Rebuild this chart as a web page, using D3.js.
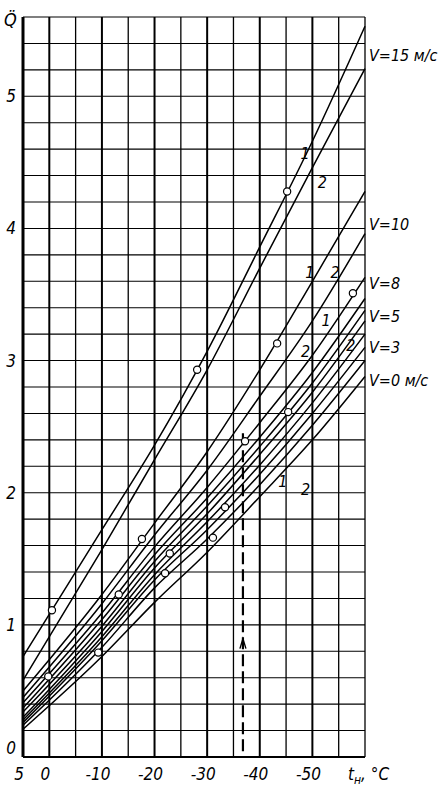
<!DOCTYPE html>
<html><head><meta charset="utf-8">
<script src="https://cdn.jsdelivr.net/npm/d3@7"></script>
<style>
body{margin:0;background:#fff;}
svg text{font-family:"Liberation Sans Narrow","DejaVu Sans Condensed","Liberation Sans",sans-serif;font-style:italic;fill:#000;}
</style></head><body>
<svg id="c" width="439" height="787"></svg>
<script>
// ---- data ----
const temps = [5, -10, -20, -30, -40, -50, -60];
const v15_1 = [0.76, 1.72, 2.36, 3.07, 3.86, 4.66, 5.53];
const v15_2 = [0.58, 1.57, 2.25, 2.93, 3.70, 4.46, 5.21];
const v10_1 = [0.50, 1.23, 1.77, 2.31, 2.93, 3.60, 4.28];
const v10_2 = [0.45, 1.16, 1.68, 2.17, 2.73, 3.30, 3.96];
const v8_1  = [0.41, 1.09, 1.59, 2.04, 2.53, 3.04, 3.63];
const v8_2  = [0.37, 1.04, 1.53, 1.96, 2.42, 2.91, 3.47];
const v5_1  = [0.34, 0.99, 1.48, 1.90, 2.35, 2.83, 3.38];
const v5_2  = [0.30, 0.95, 1.43, 1.84, 2.29, 2.76, 3.30];
const v3_1  = [0.28, 0.91, 1.38, 1.78, 2.21, 2.68, 3.20];
const v3_2  = [0.26, 0.88, 1.34, 1.72, 2.14, 2.60, 3.10];
const v0_1  = [0.24, 0.83, 1.28, 1.65, 2.06, 2.51, 3.00];
const v0_2  = [0.21, 0.76, 1.17, 1.55, 1.97, 2.40, 2.88];
const curves = [v15_1, v15_2, v10_1, v10_2, v8_1, v8_2, v5_1, v5_2, v3_1, v3_2, v0_1, v0_2];

const pointT = [-45.2, -28.1, -43.3, -57.7, -45.4, -37.2, -33.4, -31.1, -17.6, -22.9, -22.0, -13.2, -0.5, -9.3, 0.2];
const pointQ = [4.28, 2.93, 3.13, 3.51, 2.61, 2.39, 1.89, 1.66, 1.65, 1.54, 1.39, 1.23, 1.11, 0.79, 0.61];

const xTickValues = [5, 0, -10, -20, -30, -40, -50];
const xTickLabels = ["5", "0", "-10", "-20", "-30", "-40", "-50"];
const yTickValues = [0, 1, 2, 3, 4, 5];
const speedLabels = ["V=15 м/с", "V=10", "V=8", "V=5", "V=3", "V=0 м/с"];
const speedLabelQ = [5.31, 4.03, 3.59, 3.34, 3.10, 2.85];
const curveNumLabels = ["1", "2", "1", "2", "1", "2", "2", "1", "2"];
const curveNumT = [-48.6, -51.9, -49.5, -54.3, -52.6, -48.7, -57.3, -44.4, -48.7];
const curveNumQ = [4.57, 4.35, 3.67, 3.67, 3.31, 3.07, 3.12, 2.09, 2.03];
const markT = -36.8;
const markTopQ = 2.45;

// ---- drawing ----
const svg = d3.select("#c");
const x = d3.scaleLinear().domain([5, -60]).range([23, 365]);
const y = d3.scaleLinear().domain([0, 5.6]).range([757, 17]);

const g = svg.append("g");
// horizontal grid
g.selectAll("line.h").data(d3.range(0, 5.61, 0.2)).join("line")
  .attr("x1", x(5)).attr("x2", x(-60))
  .attr("y1", d => y(d)).attr("y2", d => y(d))
  .attr("stroke", "#000").attr("stroke-width", d => Math.abs(d) < 1e-6 ? 2.2 : 1.1);
// vertical grid
g.selectAll("line.v").data(d3.range(5, -60.1, -5)).join("line")
  .attr("x1", d => x(d)).attr("x2", d => x(d))
  .attr("y1", y(0)).attr("y2", y(5.6))
  .attr("stroke", "#000")
  .attr("stroke-width", d => d === 5 ? 3 : (d % 10 === 0 && d > -60 ? 2 : 1.3));

// dashed marker line
g.append("line").attr("x1", x(markT)).attr("x2", x(markT))
  .attr("y1", y(markTopQ)).attr("y2", y(0))
  .attr("stroke", "#000").attr("stroke-width", 2.2).attr("stroke-dasharray", "12,5");
g.append("path")
  .attr("d", `M${x(markT)-3},${y(0.82)} L${x(markT)},${y(0.82)-10} L${x(markT)+3},${y(0.82)}`)
  .attr("fill", "none").attr("stroke", "#000").attr("stroke-width", 1.4);

// curves
const line = d3.line().x((d, i) => x(temps[i])).y(d => y(d)).curve(d3.curveMonotoneX);
g.selectAll("path.curve").data(curves).join("path")
  .attr("d", d => line(d))
  .attr("fill", "none").attr("stroke", "#000").attr("stroke-width", 1.5);

// experimental points
g.selectAll("circle").data(pointT).join("circle")
  .attr("cx", d => x(d)).attr("cy", (d, i) => y(pointQ[i])).attr("r", 3.6)
  .attr("fill", "#fff").attr("stroke", "#000").attr("stroke-width", 1.2);

// axis labels
g.selectAll("text.yt").data(yTickValues).join("text")
  .attr("x", 11).attr("y", d => d === 0 ? y(d) - 3 : y(d) + 6)
  .attr("text-anchor", "middle").attr("font-size", 17).text(d => d);
g.selectAll("text.xt").data(xTickValues).join("text")
  .attr("x", d => x(d) - 4).attr("y", 780)
  .attr("text-anchor", "middle").attr("font-size", 17).text((d, i) => xTickLabels[i]);
const tl = g.append("text").attr("x", 348).attr("y", 780).attr("font-size", 17);
tl.append("tspan").text("t");
tl.append("tspan").attr("font-size", 12).attr("dy", 4).text("н");
tl.append("tspan").attr("dy", -4).text(", °C");
g.append("text").attr("x", 4).attr("y", 26).attr("font-size", 18).text("Q\u0308");

// speed labels
g.selectAll("text.sp").data(speedLabels).join("text")
  .attr("x", 369).attr("y", (d, i) => y(speedLabelQ[i]) + 6)
  .attr("font-size", 16).text(d => d);
// curve number labels
g.selectAll("text.cn").data(curveNumLabels).join("text")
  .attr("x", (d, i) => x(curveNumT[i])).attr("y", (d, i) => y(curveNumQ[i]) + 6)
  .attr("text-anchor", "middle").attr("font-size", 16).text(d => d);
</script>
</body></html>
